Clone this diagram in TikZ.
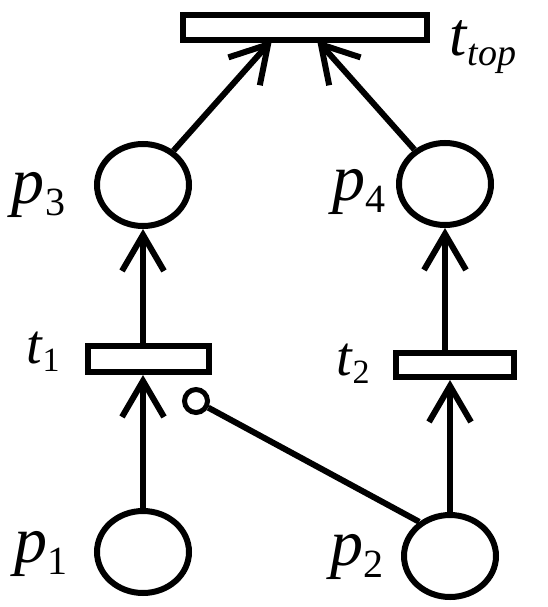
\documentclass[tikz,border=0pt]{standalone}
\usepackage{fontspec}
\setmainfont{Liberation Serif}
\usetikzlibrary{arrows.meta,shapes.geometric}
\newcommand{\plbl}[2]{\fontsize{66}{66}\selectfont\textit{#1}\raisebox{-12pt}{\fontsize{40}{40}\selectfont #2}}
\newcommand{\tlbl}[2]{\fontsize{56}{56}\selectfont\textit{#1}\raisebox{-8pt}{\fontsize{34}{34}\selectfont #2}}
\begin{document}
\begin{tikzpicture}[x=1pt,y=-1pt,
  every path/.style={line width=6pt},
  place/.style={draw,ellipse,minimum width=92pt,minimum height=82pt,inner sep=0pt,line width=6pt},
  trans/.style={draw,rectangle,inner sep=0pt,line width=6pt},
  inhib/.style={draw,circle,minimum size=23pt,inner sep=0pt,line width=5pt},
  arc/.style={line width=6pt,-{Straight Barb[length=36pt,width=42pt,line width=6pt]}},
  lbl/.style={anchor=base west,inner sep=0pt}]
\useasboundingbox (0,0) rectangle (547,607);
% places
\node[place] (p3) at (143,185) {};
\node[place] (p4) at (445,184) {};
\node[place] (p1) at (143,552) {};
\node[place] (p2) at (450,556) {};
% transitions
\node[trans,minimum width=244pt,minimum height=25pt] (ttop) at (305,27.5) {};
\node[trans,minimum width=121pt,minimum height=26pt] (t1) at (148.5,359) {};
\node[trans,minimum width=118pt,minimum height=24pt] (t2) at (455,365) {};
% inhibitor circle
\node[inhib] (inh) at (196,401) {};
% coordinates on the top transition
\coordinate (ttopL) at (272,40);
\coordinate (ttopR) at (317,40);
% arcs
\draw[arc] (p1.north) -- (p1.north |- t1.south);
\draw[arc] (t1.north -| p3.south) -- (p3.south);
\draw[arc] (p3) -- (ttopL);
\draw[arc] (p4) -- (ttopR);
\draw[arc] (p2.north) -- (p2.north |- t2.south);
\draw[arc] (t2.north -| p4.south) -- (p4.south);
\draw (p2.132) -- (inh);
% labels
\node[lbl] (lp3) at (9,203) {\plbl{p}{3}};
\node[lbl] (lp4) at (329,200) {\plbl{p}{4}};
\node[lbl] (lp1) at (11,562) {\plbl{p}{1}};
\node[lbl] (lp2) at (327,565) {\plbl{p}{2}};
\node[lbl] (lt1) at (23,363) {\tlbl{t}{1}};
\node[lbl] (lt2) at (333,375) {\tlbl{t}{2}};
\node[lbl] (ltop) at (446,56) {\fontsize{62}{62}\selectfont\textit{t}\raisebox{-10pt}{\fontsize{38}{38}\selectfont\textit{top}}};
\end{tikzpicture}
\end{document}
